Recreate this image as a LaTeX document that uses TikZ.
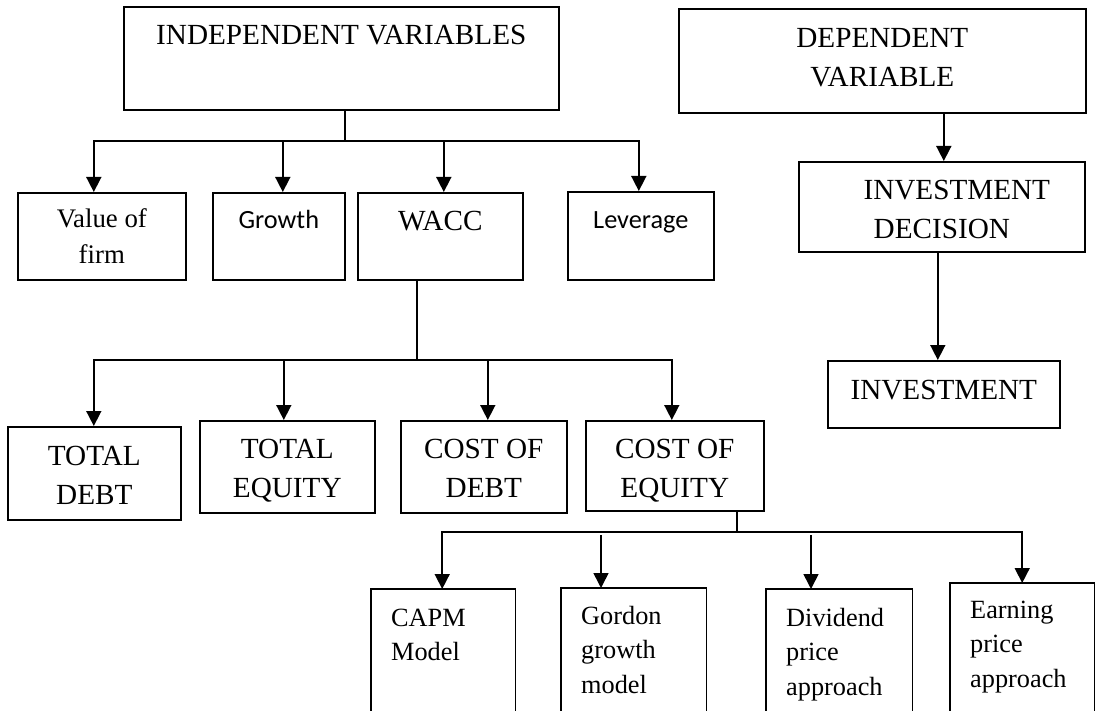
\documentclass[tikz,border=0pt]{standalone}
\usepackage{fontspec}
\setmainfont{Liberation Serif}
\newfontfamily\calibrifont{Carlito}
\usetikzlibrary{arrows.meta}
\newcommand{\cbox}[4]{\parbox[c][#2][t]{#1}{\centering\rule{0pt}{#3}#4\par}}
\newcommand{\lbox}[4]{\parbox[c][#2][t]{#1}{\raggedright\leftskip=20pt\rule{0pt}{#3}#4\par}}
\begin{document}
\begin{tikzpicture}[x=1pt,y=-1pt,
  box/.style={draw, line width=1.6pt, inner sep=0pt, anchor=north west},
  openbox/.style={draw=none, inner sep=0pt, anchor=north west},
  conn/.style={line width=1.6pt},
  arr/.style={line width=1.6pt, -{Triangle[length=15pt,width=15pt]}},
  big/.style={font=\fontsize{29.2pt}{38.5pt}\selectfont},
  mid/.style={font=\fontsize{26.8pt}{36pt}\selectfont},
  cal/.style={font=\calibrifont\fontsize{26.3pt}{32pt}\selectfont},
  small/.style={font=\fontsize{26.3pt}{34.5pt}\selectfont}]
\fill[white] (0,0) rectangle (1097,711);
\useasboundingbox (0,0) rectangle (1097,711);
\clip (0,0) rectangle (1097,711);

% top level
\node[box,big] (indep) at (123,6) {\cbox{435pt}{103pt}{38pt}{INDEPENDENT VARIABLES}};
\node[box,big] (dep) at (678,8) {\cbox{407pt}{104pt}{39pt}{DEPENDENT\\VARIABLE}};

% second level
\node[box,mid] (valfirm) at (17,192) {\cbox{168pt}{87pt}{35pt}{Value of\\firm}};
\node[box,cal] (growth) at (212,192) {\cbox{132pt}{87pt}{36pt}{Growth}};
\node[box,big] (wacc) at (357,192) {\cbox{165pt}{87pt}{38pt}{WACC}};
\node[box,cal] (leverage) at (567,191) {\cbox{146pt}{88pt}{37pt}{Leverage}};
\node[box,big] (invdec) at (798,161) {\cbox{286pt}{90pt}{38pt}{\hspace*{30pt}INVESTMENT\\DECISION}};
\node[box,big] (invest) at (827,360) {\cbox{232pt}{67pt}{39pt}{INVESTMENT}};

% third level
\node[box,big] (tdebt) at (7,426) {\cbox{173pt}{93pt}{39pt}{TOTAL\\DEBT}};
\node[box,big] (tequity) at (199,420) {\cbox{175pt}{92pt}{38pt}{TOTAL\\EQUITY}};
\node[box,big] (cdebt) at (400,420) {\cbox{166pt}{92pt}{38pt}{COST OF\\DEBT}};
\node[box,big] (cequity) at (585,420) {\cbox{178pt}{90pt}{38pt}{COST OF\\EQUITY}};

% fourth level (cut by the bottom edge)
\node[openbox,small] (capm) at (371,589) {\lbox{144pt}{122pt}{37pt}{CAPM\\Model}};
\node[openbox,small] (gordon) at (561,588) {\lbox{145pt}{123pt}{36pt}{Gordon\\growth\\model}};
\node[openbox,small] (dividend) at (766,589) {\lbox{146pt}{122pt}{37pt}{Dividend\\price\\approach}};
\node[openbox,small] (earning) at (950,583) {\lbox{144pt}{128pt}{35pt}{Earning\\price\\approach}};
\foreach \n in {capm,gordon,dividend,earning}
  \draw[conn] (\n.south west) -- (\n.north west) -- (\n.north east) -- (\n.south east);

% connectors: independent variables
\coordinate (j1) at (345,141);
\draw[conn] (indep.south -| j1) -- (j1);
\draw[arr] (j1) -| ([xshift=-8pt]valfirm.north);
\draw[arr] (j1) -| ([xshift=4pt]growth.north);
\draw[arr] (j1) -| ([xshift=3.5pt]wacc.north);
\draw[arr] (j1) -| ([xshift=-2pt]leverage.north);

% connectors: WACC
\coordinate (j2) at (417,360);
\draw[conn] (wacc.south -| j2) -- (j2);
\draw[arr] (j2) -| ([xshift=-0.5pt]tdebt.north);
\draw[arr] (j2) -| ([xshift=-3.5pt]tequity.north);
\draw[arr] (j2) -| ([xshift=4pt]cdebt.north);
\draw[arr] (j2) -| ([xshift=-3pt]cequity.north);

% connectors: cost of equity
\coordinate (j3) at (737,532);
\draw[conn] (cequity.south -| j3) -- (j3);
\draw[arr] (j3) -| ([xshift=-1pt]capm.north);
\draw[arr] (j3) -| (earning.north);
\coordinate (g0) at (601,535);
\draw[arr] (g0) -- (gordon.north -| g0);
\coordinate (d0) at (811,535);
\draw[arr] (d0) -- (dividend.north -| d0);

% connectors: dependent variable
\draw[arr] ([xshift=61.5pt]dep.south) -- ([xshift=2pt]invdec.north);
\draw[arr] ([xshift=-4pt]invdec.south) -- ([xshift=-6pt]invest.north);
\end{tikzpicture}
\end{document}
